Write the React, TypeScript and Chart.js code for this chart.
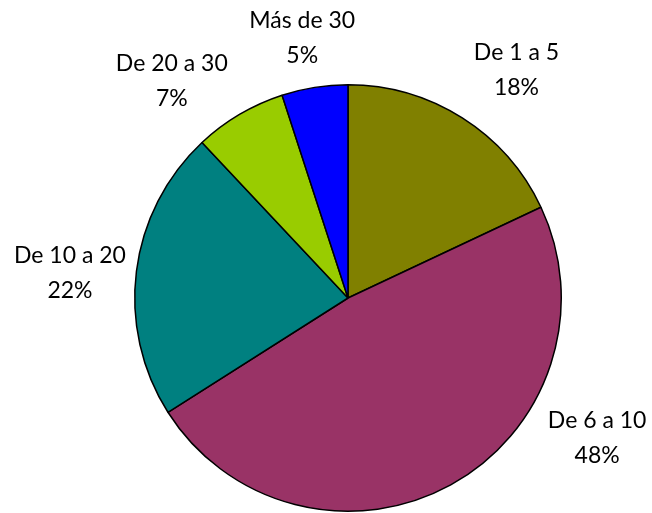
import React, { useEffect, useRef } from "react";
import { Chart, registerables } from "chart.js";

Chart.register(...registerables);

const categories = ["De 1 a 5", "De 6 a 10", "De 10 a 20", "De 20 a 30", "Más de 30"];
const values = [18, 48, 22, 7, 5];
const colors = ["#808000", "#993366", "#008080", "#99CC00", "#0000FF"];

// label placement: [angle from top in degrees, distance in radii]
const labelPolar: [number, number][] = [
  [36.5, 1.328],
  [119.4, 1.341],
  [275.1, 1.309],
  [320.9, 1.31],
  [350.0, 1.236],
];

const FONT = "Lato, 'Open Sans', sans-serif";

const labelPlugin = {
  id: "outsideLabels",
  afterDraw(chart: any) {
    const ctx = chart.ctx;
    const meta = chart.getDatasetMeta(0);
    const data = chart.data.datasets[0].data as number[];
    const total = data.reduce((a, b) => a + b, 0);
    ctx.save();
    ctx.fillStyle = "#000";
    ctx.font = `23px ${FONT}`;
    ctx.textAlign = "center";
    ctx.textBaseline = "middle";
    meta.data.forEach((arc: any, i: number) => {
      const { x, y, outerRadius } = arc.getProps(["x", "y", "outerRadius"], true);
      const [deg, k] = labelPolar[i];
      const a = (deg * Math.PI) / 180;
      const cx = x + Math.sin(a) * outerRadius * k;
      const cy = y - Math.cos(a) * outerRadius * k;
      const pct = Math.round((data[i] / total) * 100) + "%";
      ctx.fillText(chart.data.labels[i], cx, cy - 17.5);
      ctx.fillText(pct, cx, cy + 17.5);
    });
    ctx.restore();
  },
};

export default function App() {
  const ref = useRef<HTMLCanvasElement | null>(null);
  useEffect(() => {
    if (!ref.current) return;
    const chart = new Chart(ref.current, {
      type: "pie",
      data: {
        labels: categories,
        datasets: [
          {
            data: values,
            backgroundColor: colors,
            borderColor: "#000",
            borderWidth: 1.5,
          },
        ],
      },
      options: {
        responsive: false,
        animation: false,
        layout: { padding: { left: 134, right: 90, top: 84, bottom: 1 } },
        plugins: {
          legend: { display: false },
          tooltip: { enabled: false },
        },
      },
      plugins: [labelPlugin],
    });
    return () => chart.destroy();
  }, []);
  return (
    <div style={{ position: "fixed", left: 0, top: 0, width: 652, height: 513, background: "#fff" }}>
      <canvas ref={ref} width={652} height={513} />
    </div>
  );
}
